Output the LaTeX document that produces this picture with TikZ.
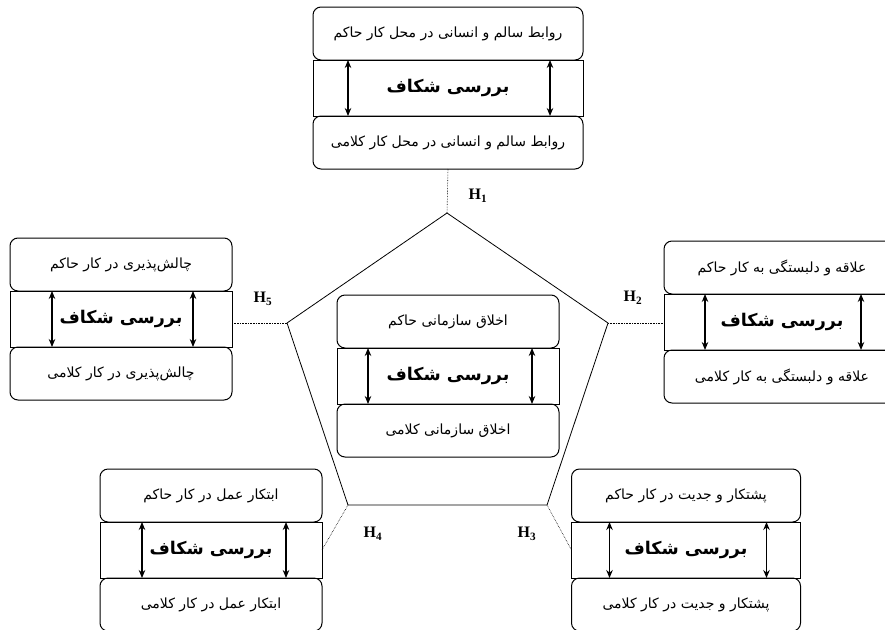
\documentclass[tikz,border=0pt]{standalone}
\usepackage{fontspec}
\setmainfont{Liberation Serif}
\newfontfamily\fafont[Script=Arabic]{DejaVu Sans}
\TeXXeTstate=1
\usetikzlibrary{arrows.meta, positioning}

\newcommand{\rtl}[1]{\beginR #1\endR}

\begin{document}
\begin{tikzpicture}[
  x=1pt, y=-1pt,
  statebox/.style={
    rectangle, rounded corners=8pt, draw, line width=1pt,
    minimum height=53pt, inner sep=2pt, outer sep=0pt,
    align=center, font=\fafont\fontsize{14}{16}\selectfont
  },
  gapbox/.style={
    rectangle, draw, line width=1pt,
    minimum height=56pt, inner sep=2pt, outer sep=0pt,
    font=\fafont\bfseries\fontsize{17.5}{20}\selectfont
  },
  twoway/.style={{Stealth[length=8pt,width=6.5pt]}-{Stealth[length=8pt,width=6.5pt]}, line width=1.1pt},
  link/.style={densely dotted, semithick},
  hlabel/.style={font=\bfseries\fontsize{16}{18}\selectfont}
]
\useasboundingbox (0,0) rectangle (885,629);

% pentagon
\coordinate (p1) at (447,213);
\coordinate (p2) at (608,323);
\coordinate (p3) at (547,505);
\coordinate (p4) at (348,505);
\coordinate (p5) at (287,323);
\draw[line width=0.8pt] (p1) -- (p2) -- (p3) -- (p4) -- (p5) -- cycle;

% centre
\node[statebox, minimum width=222pt, anchor=north] (t0) at (448,295) {\rtl{اخلاق سازمانی حاکم}};
\node[gapbox, minimum width=222pt, below=0pt of t0] (m0) {\rtl{بررسی شکاف}};
\node[statebox, minimum width=222pt, below=0pt of m0] (b0) {\rtl{اخلاق سازمانی کلامی}};

% H1
\node[statebox, minimum width=270pt, anchor=north] (t1) at (448,7) {\rtl{روابط سالم و انسانی در محل کار حاکم}};
\node[gapbox, minimum width=270pt, below=0pt of t1] (m1) {\rtl{بررسی شکاف}};
\node[statebox, minimum width=270pt, below=0pt of m1] (b1) {\rtl{روابط سالم و انسانی در محل کار کلامی}};

% H2
\node[statebox, minimum width=236pt, anchor=north] (t2) at (782,241) {\rtl{علاقه و دلبستگی به کار حاکم}};
\node[gapbox, minimum width=236pt, below=0pt of t2] (m2) {\rtl{بررسی شکاف}};
\node[statebox, minimum width=236pt, below=0pt of m2] (b2) {\rtl{علاقه و دلبستگی به کار کلامی}};

% H3
\node[statebox, minimum width=229pt, anchor=north] (t3) at (686,469) {\rtl{پشتکار و جدیت در کار حاکم}};
\node[gapbox, minimum width=229pt, below=0pt of t3] (m3) {\rtl{بررسی شکاف}};
\node[statebox, minimum width=229pt, below=0pt of m3] (b3) {\rtl{پشتکار و جدیت در کار کلامی}};

% H4
\node[statebox, minimum width=222pt, anchor=north] (t4) at (211,469) {\rtl{ابتکار عمل در کار حاکم}};
\node[gapbox, minimum width=222pt, below=0pt of t4] (m4) {\rtl{بررسی شکاف}};
\node[statebox, minimum width=222pt, below=0pt of m4] (b4) {\rtl{ابتکار عمل در کار کلامی}};

% H5
\node[statebox, minimum width=222pt, anchor=north] (t5) at (121,238) {\rtl{چالش‌پذیری در کار حاکم}};
\node[gapbox, minimum width=222pt, below=0pt of t5] (m5) {\rtl{بررسی شکاف}};
\node[statebox, minimum width=222pt, below=0pt of m5] (b5) {\rtl{چالش‌پذیری در کار کلامی}};

% gap arrows
\draw[twoway] ([xshift=31pt]m0.north west) -- ([xshift=31pt]m0.south west);
\draw[twoway] ([xshift=-27pt]m0.north east) -- ([xshift=-27pt]m0.south east);
\draw[twoway] ([xshift=35pt]m1.north west) -- ([xshift=35pt]m1.south west);
\draw[twoway] ([xshift=-33pt]m1.north east) -- ([xshift=-33pt]m1.south east);
\draw[twoway] ([xshift=41pt]m2.north west) -- ([xshift=41pt]m2.south west);
\draw[twoway] ([xshift=-39pt]m2.north east) -- ([xshift=-39pt]m2.south east);
\draw[twoway] ([xshift=38pt]m3.north west) -- ([xshift=38pt]m3.south west);
\draw[twoway] ([xshift=-34pt]m3.north east) -- ([xshift=-34pt]m3.south east);
\draw[twoway] ([xshift=42pt]m4.north west) -- ([xshift=42pt]m4.south west);
\draw[twoway] ([xshift=-36pt]m4.north east) -- ([xshift=-36pt]m4.south east);
\draw[twoway] ([xshift=42pt]m5.north west) -- ([xshift=42pt]m5.south west);
\draw[twoway] ([xshift=-39pt]m5.north east) -- ([xshift=-39pt]m5.south east);

% hypothesis links
\draw[link] (b1.south) -- (p1);
\draw[link] (p2) -- (p2 -| m2.west);
\draw[link] (p3) -- (m3.west);
\draw[link] (p4) -- (m4.east);
\draw[link] (p5) -- (p5 -| m5.east);

\node[hlabel] (h1) at (478,196) {H\textsubscript{1}};
\node[hlabel] (h2) at (633,298) {H\textsubscript{2}};
\node[hlabel] (h3) at (527,534) {H\textsubscript{3}};
\node[hlabel] (h4) at (373,534) {H\textsubscript{4}};
\node[hlabel] (h5) at (263,299) {H\textsubscript{5}};
\end{tikzpicture}
\end{document}
